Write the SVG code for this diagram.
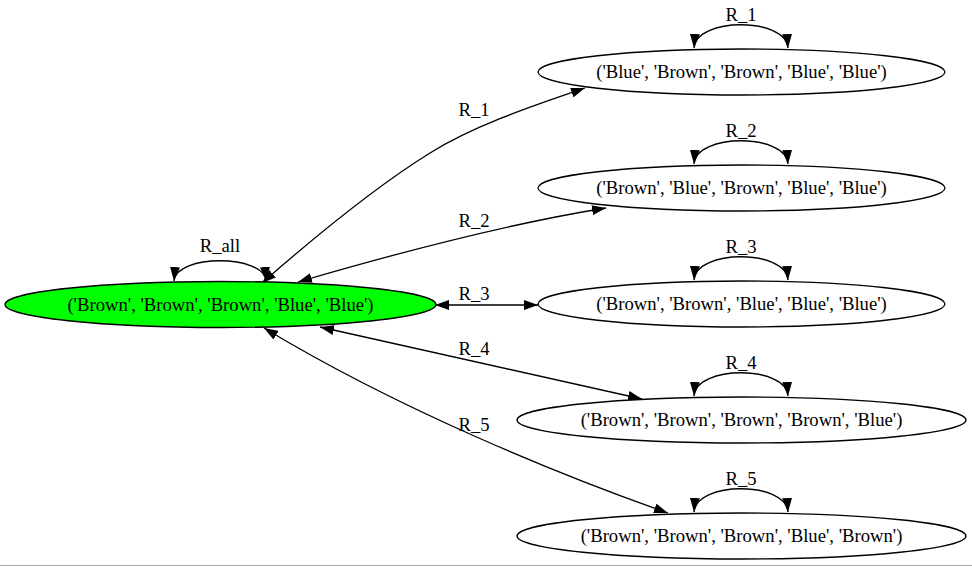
<svg xmlns="http://www.w3.org/2000/svg" width="972" height="567" viewBox="0 0 972 567">
<style>
.node ellipse{stroke:#000;stroke-width:1.3;fill:#fff}
.node text,.lbl{font-family:"Liberation Serif","Times New Roman",serif;font-size:18.67px;fill:#000;text-anchor:middle}
.edge{fill:none;stroke:#000;stroke-width:1.3;marker-start:url(#ah);marker-end:url(#ah)}
</style>
<defs>
<marker id="ah" markerUnits="userSpaceOnUse" viewBox="0 0 14 10" markerWidth="14" markerHeight="10" refX="14" refY="5" orient="auto-start-reverse">
<path d="M0,0 L14,5 L0,10 z" fill="#000"/>
</marker>
</defs>
<rect width="972" height="567" fill="#fff"/>
<line x1="0" y1="565.5" x2="972" y2="565.5" stroke="#a8a8a8" stroke-width="1"/>
<g id="connectors">
<path class="edge" d="M174,281 C176,254 264,254 266,281"/>
<path class="edge" d="M694,48 C696,17 786,17 788,48"/>
<path class="edge" d="M694,164 C696,133 786,133 788,164"/>
<path class="edge" d="M694,280 C696,249 786,249 788,280"/>
<path class="edge" d="M694,396 C696,365 786,365 788,396"/>
<path class="edge" d="M694,512 C696,481 786,481 788,512"/>
<path class="edge" d="M262,283 C318,234 380,184 430,153 C478,123 545,102 585,88"/>
<path class="edge" d="M298,282 C380,258 500,225 606,208"/>
<path class="edge" d="M435,305 L538,305"/>
<path class="edge" d="M320,327 L642,399"/>
<path class="edge" d="M264,328 C400,410 560,475 668,513"/>
<text class="lbl" x="220" y="252">R_all</text>
<text class="lbl" x="741" y="21">R_1</text>
<text class="lbl" x="741" y="137">R_2</text>
<text class="lbl" x="741" y="253">R_3</text>
<text class="lbl" x="741" y="369">R_4</text>
<text class="lbl" x="741" y="485">R_5</text>
<text class="lbl" x="474" y="116">R_1</text>
<text class="lbl" x="474" y="227">R_2</text>
<text class="lbl" x="474" y="300">R_3</text>
<text class="lbl" x="474" y="355">R_4</text>
<text class="lbl" x="474" y="431">R_5</text>
</g>
<g id="n0" class="node"><ellipse cx="220.5" cy="304.5" rx="215.5" ry="23" style="fill:#00ff00"/><text x="220.5" y="310.5">('Brown', 'Brown', 'Brown', 'Blue', 'Blue')</text></g>
<g id="n1" class="node"><ellipse cx="741.5" cy="72" rx="203.5" ry="23"/><text x="741.5" y="78">('Blue', 'Brown', 'Brown', 'Blue', 'Blue')</text></g>
<g id="n2" class="node"><ellipse cx="741.5" cy="188" rx="203.5" ry="23"/><text x="741.5" y="194">('Brown', 'Blue', 'Brown', 'Blue', 'Blue')</text></g>
<g id="n3" class="node"><ellipse cx="741.5" cy="304" rx="203.5" ry="23"/><text x="741.5" y="310">('Brown', 'Brown', 'Blue', 'Blue', 'Blue')</text></g>
<g id="n4" class="node"><ellipse cx="741.5" cy="420" rx="224.5" ry="23"/><text x="741.5" y="426">('Brown', 'Brown', 'Brown', 'Brown', 'Blue')</text></g>
<g id="n5" class="node"><ellipse cx="741.5" cy="536" rx="224.5" ry="23"/><text x="741.5" y="542">('Brown', 'Brown', 'Brown', 'Blue', 'Brown')</text></g>
</svg>
